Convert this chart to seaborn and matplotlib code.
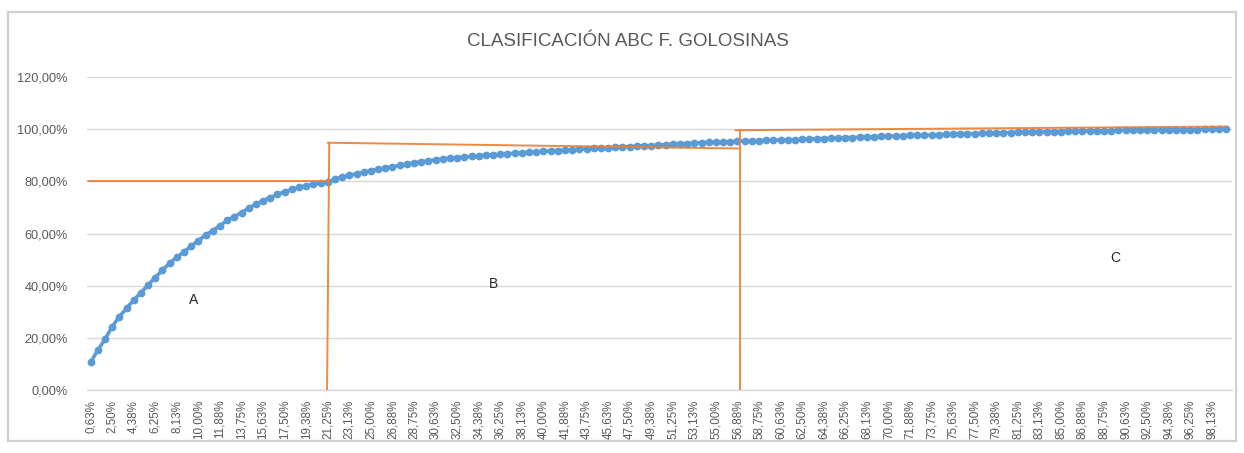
import matplotlib
matplotlib.use("Agg")
import matplotlib.pyplot as plt
import seaborn as sns
import numpy as np
import pandas as pd
from matplotlib.patches import Rectangle

# ---- data -------------------------------------------------------------
cum_pct = [
    10.6, 15.3, 19.4, 24.3, 28.1, 31.3, 34.5, 37.3, 40.3, 43.1,
    46.0, 48.6, 50.9, 53.0, 55.2, 57.3, 59.4, 61.1, 63.0, 65.0,
    66.5, 68.0, 69.8, 71.2, 72.6, 73.8, 75.0, 76.0, 77.0, 77.7,
    78.3, 78.8, 79.3, 79.8, 80.8, 81.6, 82.3, 82.9, 83.5, 84.0,
    84.6, 85.1, 85.6, 86.1, 86.6, 87.1, 87.5, 87.9, 88.3, 88.6,
    88.9, 89.1, 89.3, 89.6, 89.8, 90.0, 90.2, 90.4, 90.6, 90.8,
    91.0, 91.1, 91.3, 91.5, 91.6, 91.8, 92.0, 92.1, 92.3, 92.4,
    92.6, 92.7, 92.9, 93.0, 93.2, 93.3, 93.5, 93.6, 93.7, 93.9,
    94.1, 94.2, 94.4, 94.5, 94.7, 94.8, 94.9, 95.0, 95.1, 95.2,
    95.4, 95.5, 95.5, 95.6, 95.7, 95.8, 95.8, 95.9, 96.0, 96.1,
    96.2, 96.3, 96.4, 96.5, 96.6, 96.7, 96.8, 96.9, 97.0, 97.1,
    97.2, 97.3, 97.4, 97.5, 97.6, 97.7, 97.7, 97.8, 97.9, 98.0,
    98.1, 98.2, 98.3, 98.3, 98.4, 98.5, 98.6, 98.6, 98.7, 98.8,
    98.8, 98.9, 99.0, 99.0, 99.1, 99.1, 99.2, 99.2, 99.3, 99.3,
    99.4, 99.4, 99.4, 99.5, 99.5, 99.5, 99.6, 99.6, 99.6, 99.7,
    99.7, 99.7, 99.8, 99.8, 99.8, 99.9, 99.9, 100.0, 100.0,
]

x_tick_labels = [
    "0,63%", "2,50%", "4,38%", "6,25%", "8,13%", "10,00%", "11,88%", "13,75%",
    "15,63%", "17,50%", "19,38%", "21,25%", "23,13%", "25,00%", "26,88%",
    "28,75%", "30,63%", "32,50%", "34,38%", "36,25%", "38,13%", "40,00%",
    "41,88%", "43,75%", "45,63%", "47,50%", "49,38%", "51,25%", "53,13%",
    "55,00%", "56,88%", "58,75%", "60,63%", "62,50%", "64,38%", "66,25%",
    "68,13%", "70,00%", "71,88%", "73,75%", "75,63%", "77,50%", "79,38%",
    "81,25%", "83,13%", "85,00%", "86,88%", "88,75%", "90,63%", "92,50%",
    "94,38%", "96,25%", "98,13%",
]
y_ticks = [0, 20, 40, 60, 80, 100, 120]
y_tick_labels = ["0,00%", "20,00%", "40,00%", "60,00%", "80,00%", "100,00%", "120,00%"]

title = "CLASIFICACIÓN ABC F. GOLOSINAS"

# hand-drawn ABC class boxes (category index, percent)
boxA_x = [-0.4, 33.0]
boxA_y = [80.0, 80.0]
vA_x = [33.2, 32.9]
vA_y = [94.8, 0.0]
boxB_x = [33.0, 90.1]
boxB_y = [94.8, 92.6]
vB_x = [90.3, 90.3]
vB_y = [99.8, 0.0]
boxC_x = [89.7, 158.0]
boxC_y = [99.6, 101.0]

class_labels = ["A", "B", "C"]
class_label_x = [14.3, 56.1, 142.5]
class_label_y = [34.5, 40.8, 50.7]

# ---- style ------------------------------------------------------------
sns.set_style("white")
plt.rcParams["font.family"] = ["Liberation Sans", "DejaVu Sans"]

W, H = 1244, 453
fig = plt.figure(figsize=(W / 100, H / 100), dpi=100)
ax = fig.add_axes([87 / W, 63 / H, 1145 / W, 313 / H])

blue = "#5B9BD5"
orange = "#ED7D31"
grid = "#D9D9D9"
txt = "#595959"

df = pd.DataFrame({"idx": np.arange(len(cum_pct)), "pct": cum_pct})
sns.lineplot(data=df, x="idx", y="pct", ax=ax, color=blue, linewidth=2.6,
             marker="o", markersize=5.6, markeredgewidth=0, zorder=3)

for xs, ys in [(boxA_x, boxA_y), (vA_x, vA_y), (boxB_x, boxB_y),
               (vB_x, vB_y), (boxC_x, boxC_y)]:
    ax.plot(xs, ys, color=orange, linewidth=1.4, zorder=4, alpha=0.9)

for lab, lx, ly in zip(class_labels, class_label_x, class_label_y):
    ax.text(lx, ly, lab, fontsize=10, color="#262626", ha="center", va="center")

ax.set_xlim(-0.5, len(cum_pct) - 0.5 + 0.3)
ax.set_ylim(0, 120)
ax.set_yticks(y_ticks)
ax.set_yticklabels(y_tick_labels, fontsize=9.2, color=txt)
ax.set_xticks(np.arange(len(cum_pct))[::3])
ax.set_xticklabels(x_tick_labels, rotation=90, fontsize=8.4, color=txt)
ax.tick_params(axis="y", length=0, pad=14)
ax.tick_params(axis="x", length=0, pad=7)
ax.set_xlabel("")
ax.set_ylabel("")
ax.grid(axis="y", color=grid, linewidth=1.0)
ax.set_axisbelow(True)
for s in ["top", "right", "left"]:
    ax.spines[s].set_visible(False)
ax.spines["bottom"].set_color(grid)
ax.spines["bottom"].set_linewidth(1.0)

fig.text(628 / W, 1 - 42 / H, title, fontsize=13.5, color=txt,
         ha="center", va="center")

fig.patches.append(Rectangle((8 / W, 1 - 441 / H), 1228 / W, 429 / H,
                             transform=fig.transFigure, fill=False,
                             edgecolor="#D0D0D0", linewidth=1.6))

fig.savefig("out.png", dpi=100)
